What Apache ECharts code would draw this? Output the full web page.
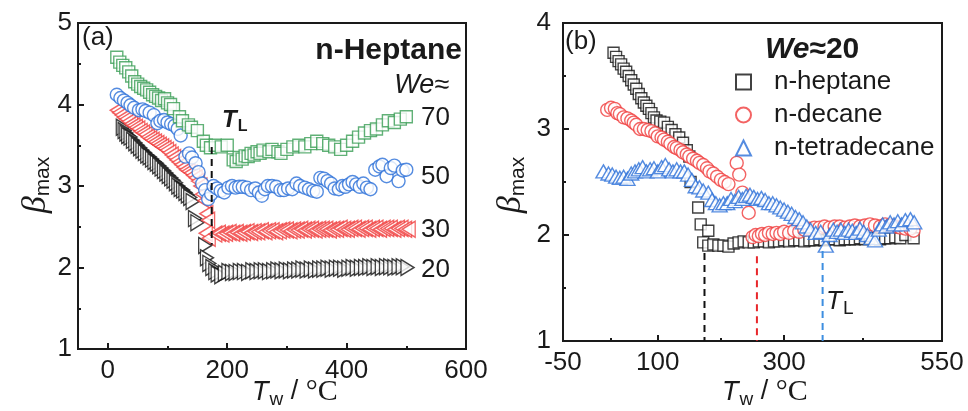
<!DOCTYPE html>
<html>
<head>
<meta charset="utf-8">
<script src="https://cdn.jsdelivr.net/npm/echarts@6/dist/echarts.min.js"></script>
<style>
  html, body { margin: 0; padding: 0; background: #fff; }
  #chart { width: 968px; height: 411px; }
</style>
</head>
<body>
<div id="chart"></div>
<script>
// ---- panel (a): n-heptane at several We, [Tw, beta_max] ----
const we20 = [[25,3.72],[28,3.68],[31,3.65],[34,3.62],[38,3.6],[42,3.56],[46,3.53],[50,3.5],[54,3.47],[58,3.44],[62,3.41],[66,3.38],[70,3.36],[74,3.33],[78,3.3],[82,3.28],[86,3.25],[90,3.22],[94,3.19],[98,3.16],[102,3.13],[106,3.1],[110,3.07],[114,3.04],[118,3.0],[122,2.97],[126,2.95],[130,2.92],[134,2.89],[138,2.86],[142,2.81],[146,2.6],[150,2.55],[163,2.27],[166,2.12],[170,2.05],[175,2.0],[180,1.95],[184,1.92],[190,1.9],[196,1.93],[202,1.95],[208,1.94],[214,1.94],[221,1.95],[228,1.95],[235,1.94],[242,1.96],[249,1.95],[256,1.96],[263,1.96],[270,1.95],[277,1.96],[284,1.97],[291,1.96],[298,1.97],[305,1.96],[312,1.97],[319,1.97],[326,1.98],[333,1.97],[340,1.98],[347,1.97],[354,1.98],[361,1.98],[368,1.99],[375,1.98],[382,1.99],[389,1.99],[396,1.98],[403,1.99],[410,2.0],[417,1.99],[424,2.0],[431,2.0],[438,2.01],[445,2.0],[452,2.01],[459,2.0],[466,2.01],[473,2.01],[480,2.0],[487,2.01],[494,2.01],[502,2.0]];
const we30 = [[15,3.93],[19,3.9],[23,3.87],[27,3.84],[31,3.82],[35,3.79],[39,3.76],[43,3.74],[47,3.72],[51,3.7],[55,3.67],[59,3.65],[63,3.63],[67,3.6],[71,3.58],[75,3.56],[79,3.54],[83,3.52],[87,3.5],[91,3.48],[95,3.46],[99,3.44],[103,3.41],[107,3.38],[111,3.35],[115,3.32],[119,3.29],[123,3.26],[127,3.23],[131,3.2],[135,3.18],[139,3.16],[143,3.13],[147,3.1],[151,3.06],[155,3.0],[158,2.9],[162,2.82],[165,2.66],[168,2.58],[164,2.42],[169,2.36],[180,2.41],[186,2.42],[192,2.41],[198,2.42],[204,2.43],[210,2.42],[216,2.43],[222,2.42],[228,2.43],[234,2.44],[240,2.43],[246,2.44],[252,2.44],[258,2.45],[264,2.44],[270,2.45],[276,2.45],[282,2.44],[288,2.45],[294,2.46],[300,2.46],[306,2.45],[312,2.46],[318,2.46],[324,2.47],[330,2.46],[336,2.47],[342,2.47],[348,2.46],[354,2.47],[360,2.47],[366,2.47],[372,2.46],[378,2.47],[384,2.47],[390,2.48],[396,2.47],[402,2.47],[408,2.48],[414,2.48],[420,2.47],[426,2.48],[432,2.48],[438,2.47],[444,2.48],[450,2.48],[456,2.47],[462,2.48],[468,2.48],[474,2.48],[480,2.47],[486,2.48],[492,2.48],[498,2.47],[504,2.47]];
const we50 = [[15,4.12],[21,4.08],[27,4.05],[33,4.02],[38,3.99],[44,3.96],[52,3.93],[58,3.94],[63,3.92],[70,3.9],[77,3.87],[83,3.77],[88,3.8],[94,3.81],[100,3.78],[106,3.76],[112,3.74],[117,3.7],[122,3.62],[130,3.36],[136,3.4],[141,3.35],[147,3.28],[152,3.17],[158,3.03],[163,2.95],[168,2.84],[173,2.9],[177,3.0],[183,2.97],[189,2.94],[195,2.92],[202,2.98],[208,3.0],[214,2.98],[220,2.99],[226,2.99],[233,2.98],[240,2.95],[247,2.97],[253,2.92],[258,2.88],[263,2.96],[268,3.0],[275,3.0],[282,2.99],[289,2.95],[295,2.95],[302,2.97],[309,2.96],[316,3.03],[322,3.0],[330,2.98],[337,2.96],[344,2.94],[350,2.93],[356,3.1],[362,3.09],[368,3.06],[374,3.03],[380,2.97],[387,2.96],[393,3.0],[398,2.99],[404,3.02],[410,3.05],[416,3.02],[422,2.99],[428,3.03],[434,2.98],[440,2.96],[448,3.2],[455,3.24],[460,3.26],[467,3.12],[474,3.22],[480,3.25],[487,3.06],[494,3.19],[500,3.2]];
const we70 = [[15,4.58],[20,4.52],[25,4.48],[30,4.45],[35,4.4],[40,4.35],[45,4.28],[50,4.25],[55,4.22],[60,4.2],[65,4.18],[70,4.15],[75,4.12],[80,4.1],[85,4.08],[90,4.05],[95,4.07],[100,4.02],[105,4.0],[110,3.95],[120,3.85],[125,3.8],[135,3.75],[140,3.72],[150,3.68],[160,3.55],[165,3.5],[172,3.47],[180,3.5],[190,3.48],[200,3.5],[210,3.32],[215,3.3],[220,3.35],[225,3.33],[230,3.37],[235,3.36],[240,3.4],[245,3.38],[250,3.42],[255,3.4],[260,3.44],[270,3.42],[275,3.45],[285,3.42],[290,3.4],[300,3.45],[310,3.48],[320,3.5],[330,3.48],[340,3.52],[350,3.55],[360,3.52],[370,3.5],[380,3.48],[390,3.45],[400,3.5],[410,3.55],[420,3.6],[430,3.65],[440,3.68],[450,3.7],[460,3.75],[470,3.8],[480,3.78],[490,3.82],[500,3.85]];
const tlA = [[174,3.48],[174,2.28]];

// ---- panel (b): We ~ 20, three fuels ----
const heptane = [[30,3.72],[34,3.68],[38,3.64],[42,3.61],[46,3.57],[50,3.54],[54,3.5],[58,3.46],[62,3.42],[66,3.38],[70,3.33],[74,3.29],[78,3.25],[82,3.22],[86,3.19],[90,3.15],[94,3.11],[98,3.08],[104,3.07],[110,3.06],[116,3.02],[122,2.99],[128,2.95],[134,2.92],[140,2.87],[146,2.8],[150,2.74],[152,2.5],[164,2.26],[168,2.1],[180,2.04],[172,1.93],[180,1.9],[188,1.91],[196,1.9],[204,1.9],[212,1.89],[220,1.92],[228,1.93],[236,1.94],[244,1.93],[252,1.93],[260,1.94],[268,1.94],[276,1.93],[284,1.94],[292,1.94],[300,1.95],[308,1.94],[316,1.95],[324,1.95],[332,1.94],[340,1.95],[348,1.95],[356,1.96],[364,1.95],[372,1.96],[380,1.96],[388,1.95],[396,1.96],[404,1.96],[412,1.96],[420,1.97],[428,1.96],[436,1.97],[444,1.97],[452,1.96],[460,1.97],[468,1.97],[476,1.98],[484,1.97],[492,2.0],[505,1.97]];
const decane = [[20,3.18],[26,3.2],[32,3.19],[36,3.15],[40,3.14],[46,3.11],[52,3.1],[58,3.08],[62,3.06],[66,3.04],[72,3.0],[78,3.0],[84,2.99],[90,2.98],[96,2.96],[100,2.93],[106,2.92],[110,2.9],[116,2.88],[120,2.86],[126,2.83],[130,2.82],[136,2.8],[140,2.78],[146,2.76],[150,2.74],[156,2.72],[162,2.7],[166,2.68],[172,2.66],[178,2.63],[182,2.6],[188,2.58],[194,2.55],[200,2.52],[206,2.5],[212,2.48],[225,2.68],[229,2.57],[234,2.4],[244,2.21],[250,1.98],[255,2.0],[260,1.99],[265,2.01],[270,2.0],[276,2.02],[282,2.01],[288,2.02],[294,2.01],[300,2.03],[308,2.02],[316,2.04],[324,2.03],[332,2.05],[340,2.06],[348,2.07],[356,2.07],[364,2.08],[372,2.07],[380,2.08],[388,2.08],[396,2.07],[404,2.08],[412,2.09],[420,2.08],[428,2.09],[436,2.1],[444,2.09],[452,2.08],[460,2.1],[468,2.09],[476,2.08],[484,2.07],[492,2.06],[500,2.06],[505,2.04]];
const tetradecane = [[14,2.6],[22,2.58],[28,2.57],[34,2.55],[40,2.54],[46,2.55],[52,2.53],[58,2.58],[64,2.6],[70,2.62],[76,2.64],[82,2.6],[88,2.62],[94,2.63],[100,2.6],[106,2.64],[112,2.66],[118,2.62],[124,2.6],[130,2.62],[136,2.6],[142,2.6],[148,2.57],[154,2.52],[160,2.46],[166,2.45],[172,2.42],[180,2.4],[186,2.33],[192,2.3],[198,2.28],[204,2.3],[210,2.3],[216,2.34],[222,2.32],[228,2.36],[234,2.34],[240,2.37],[246,2.38],[252,2.36],[258,2.34],[264,2.35],[270,2.33],[276,2.3],[282,2.3],[288,2.28],[294,2.26],[300,2.24],[306,2.22],[312,2.2],[318,2.17],[324,2.15],[330,2.12],[336,2.08],[342,2.05],[350,2.02],[358,2.03],[366,1.9],[372,2.0],[378,2.05],[384,2.03],[390,2.05],[396,2.02],[402,2.05],[408,2.04],[414,2.02],[420,2.06],[426,2.03],[432,2.0],[438,1.97],[444,1.95],[450,2.05],[456,2.1],[462,2.08],[468,2.12],[474,2.1],[480,2.13],[486,2.1],[492,2.14],[500,2.15],[506,2.12]];
const tlHeptane = [[174,1.83],[174,1]];
const tlDecane = [[257,1.8],[257,1]];
const tlTetradecane = [[361,1.85],[361,1]];

// ticks and labels
const xLabelsA = [0, 200, 400, 600];
const xMajorA = [0, 200, 400];
const xMinorA = [100, 300, 500];
const xLabelsB = [-50, 100, 300, 550];
const xMajorB = [100, 300];
const xMinorB = [25, 200, 425];

const SANS = 'Liberation Sans, Arial, sans-serif';
const SERIF = 'Liberation Serif, Times New Roman, serif';
const ink = '#1a1a1a';
const green = '#3a9e55', blue = '#2a6fd8', red = '#f03c3c', black = '#111111';

function xMain(grid, min, max, labels, ticks) {
  return {
    type: 'value', gridIndex: grid, min: min, max: max, position: 'bottom',
    axisLine: { show: true, onZero: false, lineStyle: { color: ink, width: 2 } },
    axisTick: { show: true, inside: true, length: 6, customValues: ticks, lineStyle: { color: ink, width: 2 } },
    axisLabel: { customValues: labels, fontSize: 26, color: ink, fontFamily: SANS, margin: 9 },
    splitLine: { show: false }
  };
}
function xMinor(grid, min, max, ticks) {
  return {
    type: 'value', gridIndex: grid, min: min, max: max, position: 'bottom',
    axisLine: { show: false },
    axisTick: { show: true, inside: true, length: 3, customValues: ticks, lineStyle: { color: ink, width: 2 } },
    axisLabel: { show: false },
    splitLine: { show: false }
  };
}
function yAxis(grid, min, max, margin) {
  return {
    type: 'value', gridIndex: grid, min: min, max: max, interval: 1,
    axisLine: { show: true, onZero: false, lineStyle: { color: ink, width: 2 } },
    axisTick: { show: true, inside: true, length: 6, lineStyle: { color: ink, width: 2 } },
    minorTick: { show: true, splitNumber: 2, length: 3, lineStyle: { color: ink, width: 2 } },
    axisLabel: { fontSize: 26, color: ink, fontFamily: SANS, margin: margin },
    splitLine: { show: false }, minorSplitLine: { show: false }
  };
}
function scatter(name, data, xi, yi, symbol, size, color, rotate) {
  return {
    name: name, type: 'scatter', xAxisIndex: xi, yAxisIndex: yi, data: data,
    symbol: symbol, symbolSize: size, symbolRotate: rotate || 0,
    itemStyle: { color: '#fff', borderColor: color, borderWidth: 1.4 },
    emphasis: { disabled: true }, animation: false
  };
}
function dashed(data, xi, yi, color) {
  return {
    type: 'line', xAxisIndex: xi, yAxisIndex: yi, data: data, symbol: 'none',
    lineStyle: { color: color, width: 2, type: [7, 5] }, animation: false, z: 5
  };
}

const chart = echarts.init(document.getElementById('chart'));
chart.setOption({
  backgroundColor: '#fff',
  animation: false,
  grid: [
    { left: 78, top: 23, width: 388, height: 326, show: true, borderColor: ink, borderWidth: 2, backgroundColor: 'transparent', outerBoundsMode: 'none' },
    { left: 563, top: 23, width: 379, height: 318, show: true, borderColor: ink, borderWidth: 2, backgroundColor: 'transparent', outerBoundsMode: 'none' }
  ],
  xAxis: [
    xMain(0, -50, 600, xLabelsA, xMajorA),
    xMinor(0, -50, 600, xMinorA),
    xMain(1, -50, 550, xLabelsB, xMajorB),
    xMinor(1, -50, 550, xMinorB)
  ],
  yAxis: [yAxis(0, 1, 5, 6), yAxis(1, 1, 4, 12)],
  legend: {
    data: ['n-heptane', 'n-decane', 'n-tetradecane'],
    orient: 'vertical', left: 730, top: 64, itemWidth: 15, itemHeight: 15, itemGap: 7,
    selectedMode: false,
    textStyle: { fontSize: 26, fontFamily: SANS, color: ink, lineHeight: 26, padding: [0, 0, 0, 18] }
  },
  series: [
    scatter('We20', we20, 0, 0, 'triangle', [16, 13], black, -90),
    scatter('We30', we30, 0, 0, 'triangle', [16, 13], red, 90),
    scatter('We50', we50, 0, 0, 'circle', 13, blue),
    scatter('We70', we70, 0, 0, 'rect', 12, green),
    dashed(tlA, 0, 0, black),
    scatter('n-heptane', heptane, 2, 1, 'rect', 11, black),
    scatter('n-decane', decane, 2, 1, 'circle', 13, red),
    scatter('n-tetradecane', tetradecane, 2, 1, 'triangle', [15, 13], blue),
    dashed(tlHeptane, 2, 1, black),
    dashed(tlDecane, 2, 1, '#e8262b'),
    dashed(tlTetradecane, 2, 1, '#3d8ee0')
  ],
  graphic: [
    { type: 'text', x: 82, y: 38, style: { text: '(a)', font: '26px ' + SANS, fill: ink, verticalAlign: 'middle' } },
    { type: 'text', x: 565, y: 42, style: { text: '(b)', font: '26px ' + SANS, fill: ink, verticalAlign: 'middle' } },
    { type: 'text', x: 462, y: 51, style: { text: 'n-Heptane', font: 'bold 30px ' + SANS, fill: ink, align: 'right', verticalAlign: 'middle' } },
    { type: 'text', x: 449, y: 85, style: { text: 'We≈', font: 'italic 27px ' + SANS, fill: ink, align: 'right', verticalAlign: 'middle' } },
    { type: 'text', x: 421, y: 118, style: { text: '70', font: '26px ' + SANS, fill: ink, verticalAlign: 'middle' } },
    { type: 'text', x: 421, y: 177, style: { text: '50', font: '26px ' + SANS, fill: ink, verticalAlign: 'middle' } },
    { type: 'text', x: 421, y: 230, style: { text: '30', font: '26px ' + SANS, fill: ink, verticalAlign: 'middle' } },
    { type: 'text', x: 421, y: 270, style: { text: '20', font: '26px ' + SANS, fill: ink, verticalAlign: 'middle' } },
    { type: 'text', x: 222, y: 120, style: {
      text: '{t|T}{s|L}', verticalAlign: 'middle',
      rich: {
        t: { font: 'italic bold 24px ' + SANS, fill: ink, lineHeight: 26 },
        s: { font: 'bold 16px ' + SANS, fill: ink, lineHeight: 16, padding: [14, 0, 0, 1] }
      } } },
    { type: 'text', x: 826, y: 302, style: {
      text: '{t|T}{s|L}', verticalAlign: 'middle',
      rich: {
        t: { font: 'italic 26px ' + SANS, fill: ink, lineHeight: 28 },
        s: { font: '19px ' + SANS, fill: ink, lineHeight: 19, padding: [14, 0, 0, 1] }
      } } },
    { type: 'text', x: 765, y: 50, style: {
      text: '{w|We}{n|≈20}', verticalAlign: 'middle',
      rich: {
        w: { font: 'italic bold 30px ' + SANS, fill: ink },
        n: { font: 'bold 30px ' + SANS, fill: ink }
      } } },
    // axis names
    { type: 'text', x: 252, y: 392, style: {
      text: '{t|T}{s|w}{n| / }{c|°C}', verticalAlign: 'middle',
      rich: {
        t: { font: 'italic 27px ' + SANS, fill: ink, lineHeight: 30 },
        s: { font: '19px ' + SANS, fill: ink, lineHeight: 19, padding: [16, 0, 0, 1] },
        n: { font: '27px ' + SANS, fill: ink, lineHeight: 30 },
        c: { font: '30px ' + SERIF, fill: ink, lineHeight: 30 }
      } } },
    { type: 'text', x: 722, y: 392, style: {
      text: '{t|T}{s|w}{n| / }{c|°C}', verticalAlign: 'middle',
      rich: {
        t: { font: 'italic 27px ' + SANS, fill: ink, lineHeight: 30 },
        s: { font: '19px ' + SANS, fill: ink, lineHeight: 19, padding: [16, 0, 0, 1] },
        n: { font: '27px ' + SANS, fill: ink, lineHeight: 30 },
        c: { font: '30px ' + SERIF, fill: ink, lineHeight: 30 }
      } } },
    { type: 'text', x: 36, y: 185, rotation: Math.PI / 2, style: {
      text: '{b|β}{s|max}', align: 'center', verticalAlign: 'middle',
      rich: {
        b: { font: 'italic 34px ' + SERIF, fill: ink, lineHeight: 34 },
        s: { font: '21px ' + SANS, fill: ink, lineHeight: 21, padding: [14, 0, 0, 0] }
      } } },
    { type: 'text', x: 511, y: 185, rotation: Math.PI / 2, style: {
      text: '{b|β}{s|max}', align: 'center', verticalAlign: 'middle',
      rich: {
        b: { font: 'italic 34px ' + SERIF, fill: ink, lineHeight: 34 },
        s: { font: '21px ' + SANS, fill: ink, lineHeight: 21, padding: [14, 0, 0, 0] }
      } } }
  ]
});
</script>
</body>
</html>
